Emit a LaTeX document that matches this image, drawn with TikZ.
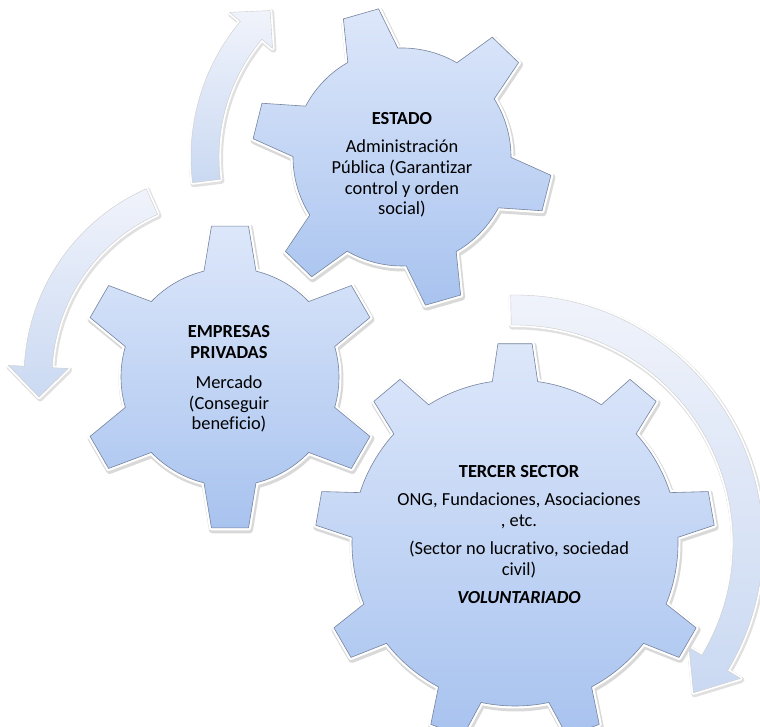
\documentclass[tikz,border=0pt]{standalone}
\usepackage{fontspec}
\setmainfont{Carlito}[Ligatures=NoCommon]
\definecolor{geartop}{HTML}{DDE7FA}
\definecolor{gearbot}{HTML}{A8C3EF}
\definecolor{gearline}{HTML}{76849E}
\definecolor{arrowtop}{HTML}{F0F3FB}
\definecolor{arrowbot}{HTML}{CAD9F2}

\tikzset{
  % teeth, tip radius, root radius, rotation, tip half angle, root half angle
  cog/.style n args={6}{insert path={({#4-#6}:#3)
    \foreach \k in {1,...,#1} {-- ({#4+(\k-1)*360/#1-#5}:#2) -- ({#4+(\k-1)*360/#1+#5}:#2)
      -- ({#4+(\k-1)*360/#1+#6}:#3) arc[start angle={#4+(\k-1)*360/#1+#6}, end angle={#4+\k*360/#1-#6}, radius=#3]}
    -- cycle}},
  % radius, half shaft, half head, start, head base, tip
  swirl/.style n args={6}{insert path={({#4}:{#1+#2}) arc[start angle=#4, end angle=#5, radius={#1+#2}]
    -- ({#5}:{#1+#3}) -- ({#6}:#1) -- ({#5}:{#1-#3}) -- ({#5}:{#1-#2})
    arc[start angle=#5, end angle=#4, radius={#1-#2}] -- cycle}},
  gearbody/.style={preaction={draw=black!15, line width=7pt, line join=round, transform canvas={shift={(1pt,-2pt)}}},
    preaction={draw=white, line width=5pt, line join=round},
    top color=geartop, bottom color=gearbot, draw=gearline, line width=0.6pt, line join=round},
  arrowbody/.style={preaction={draw=black!12, line width=6pt, line join=round, transform canvas={shift={(1pt,-1.5pt)}}},
    preaction={draw=white, line width=4pt, line join=round},
    top color=arrowtop, bottom color=arrowbot, draw=black!20, line width=0.4pt, line join=round},
  gtext/.style={align=center, inner sep=0pt, font=\fontsize{18.4}{20.8}\selectfont}
}

\begin{document}
\begin{tikzpicture}[x=1pt,y=1pt]
  \useasboundingbox (0,0) rectangle (760,727);
  \coordinate (estadoC) at (402,570);
  \coordinate (empresasC) at (230,350);
  \coordinate (tercerC) at (515,184);

  % arrows round the gears
  \begin{scope}[shift={(estadoC)}]
    \path[arrowbody, swirl={197}{14}{28}{187}{140}{132}];
  \end{scope}
  \begin{scope}[shift={(empresasC)}]
    \path[arrowbody, swirl={192}{14}{30}{114}{177}{186}];
  \end{scope}
  \begin{scope}[shift={(tercerC)}]
    \path[arrowbody, swirl={233}{15}{30}{91}{-31}{-40}];
  \end{scope}

  % gears
  \begin{scope}[shift={(estadoC)}]
    \path[gearbody, cog={6}{150}{109}{-14}{7}{13.8}];
  \end{scope}
  \begin{scope}[shift={(empresasC)}]
    \path[gearbody, cog={6}{152}{109}{90}{7}{13.8}];
  \end{scope}
  \begin{scope}[shift={(tercerC)}]
    \path[gearbody, cog={9}{200}{163}{90}{4.9}{8}];
  \end{scope}

  \node[gtext] (estado) at (402,562) {\textbf{ESTADO}\\[7pt]
    Administración\\ Pública (Garantizar\\ control y orden\\ social)};
  \node[gtext] (empresas) at (229,348) {\textbf{EMPRESAS}\\ \textbf{PRIVADAS}\\[9pt]
    Mercado\\ (Conseguir\\ beneficio)};
  \node[gtext] (tercer) at (519,192) {\textbf{TERCER SECTOR}\\[7pt]
    ONG, Fundaciones, Asociaciones\\ , etc.\\[7pt]
    (Sector no lucrativo, sociedad\\ civil)\\[8pt]
    \textbf{\textit{VOLUNTARIADO}}};
\end{tikzpicture}
\end{document}
